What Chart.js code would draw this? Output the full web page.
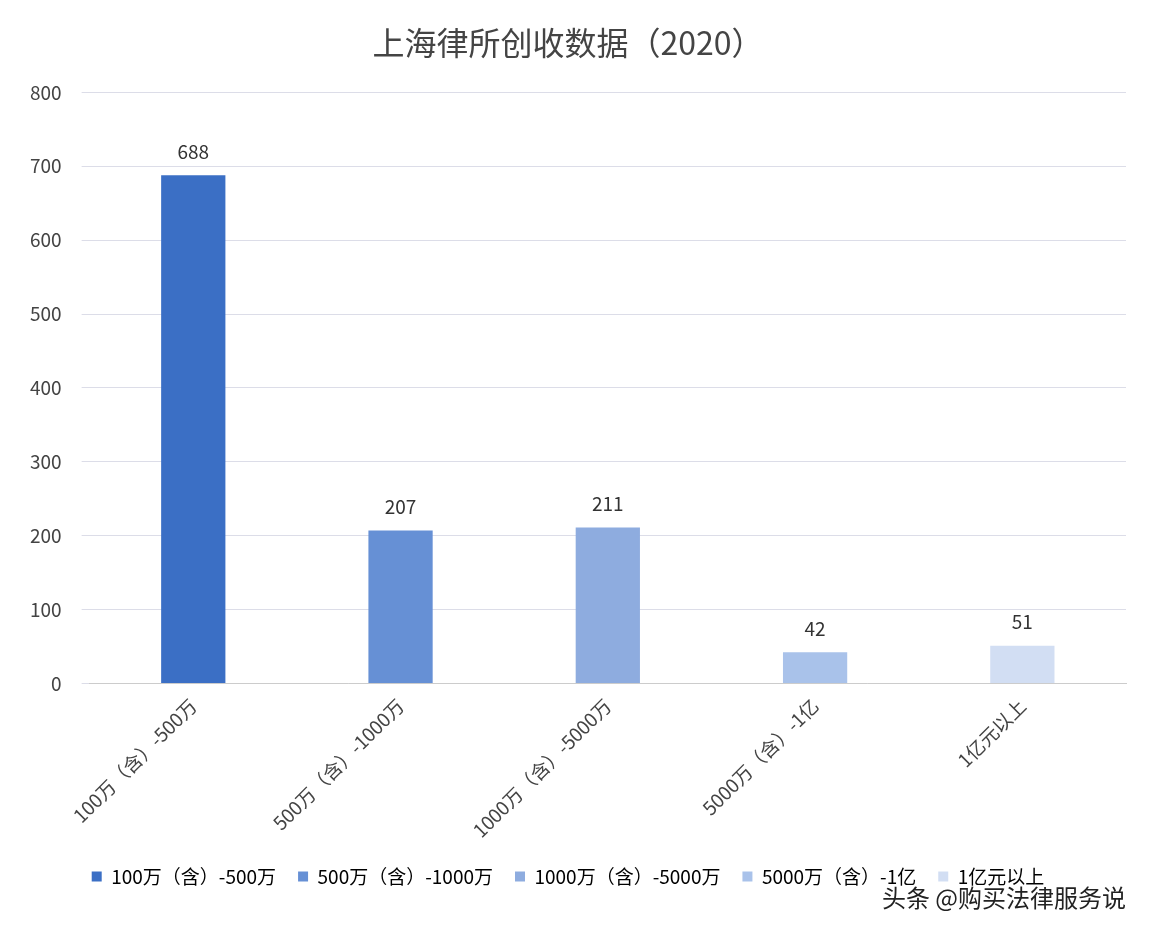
<!DOCTYPE html>
<html>
<head>
<meta charset="utf-8">
<script src="https://cdn.jsdelivr.net/npm/chart.js@4"></script>
<style>
  body { margin: 0; background: #fff; }
  .chart-container { position: relative; width: 1154px; height: 936px; }
  .mark { position: absolute; right: 28px; bottom: 22px; font: 24px "Noto Sans CJK SC"; color: #222; }
</style>
</head>
<body>
<div class="chart-container">
  <canvas id="chart" width="1154" height="936"></canvas>
  <div class="mark">头条 @购买法律服务说</div>
</div>
<script>
const categories = ["100万（含）-500万", "500万（含）-1000万", "1000万（含）-5000万", "5000万（含）-1亿", "1亿元以上"];
const counts = [688, 207, 211, 42, 51];
const barColors = ["#3b6fc5", "#6690d5", "#8eacdf", "#a9c2ea", "#d2def3"];

const FONT = '"Noto Sans CJK SC", "Noto Sans", sans-serif';

const valueLabels = {
  id: "valueLabels",
  afterDatasetsDraw(chart) {
    const ctx = chart.ctx;
    const meta = chart.getDatasetMeta(0);
    ctx.save();
    ctx.font = "19px " + FONT;
    ctx.fillStyle = "#333";
    ctx.textAlign = "center";
    ctx.textBaseline = "bottom";
    meta.data.forEach((bar, i) => {
      ctx.fillText(counts[i], bar.x, bar.y - 14);
    });
    ctx.restore();
  }
};

new Chart(document.getElementById("chart").getContext("2d"), {
  type: "bar",
  data: {
    labels: categories,
    datasets: [{
      data: counts,
      backgroundColor: barColors,
      barPercentage: 0.31,
      categoryPercentage: 1
    }]
  },
  options: {
    responsive: false,
    animation: false,
    layout: { padding: { left: 10, right: 28, top: 10, bottom: 40 } },
    plugins: {
      title: {
        display: true,
        text: "上海律所创收数据（2020）",
        font: { family: FONT, size: 32, weight: "normal" },
        color: "#444",
        padding: { top: 14, bottom: 30 }
      },
      legend: {
        position: "bottom",
        labels: {
          font: { family: FONT, size: 19 },
          color: "#444",
          boxWidth: 10,
          boxHeight: 10,
          padding: 22,
          generateLabels: () => categories.map((c, i) => ({
            text: c, fillStyle: barColors[i], strokeStyle: barColors[i], lineWidth: 0
          }))
        }
      },
      tooltip: { enabled: false }
    },
    scales: {
      x: {
        grid: { display: false },
        border: { color: "#ccc" },
        ticks: { font: { family: FONT, size: 19 }, color: "#444", minRotation: 45, maxRotation: 45 }
      },
      y: {
        min: 0, max: 800,
        ticks: { stepSize: 100, font: { family: FONT, size: 19 }, color: "#444", padding: 20 },
        grid: { color: "#dcdde8" },
        border: { display: false }
      }
    }
  },
  plugins: [valueLabels]
});
</script>
</body>
</html>
